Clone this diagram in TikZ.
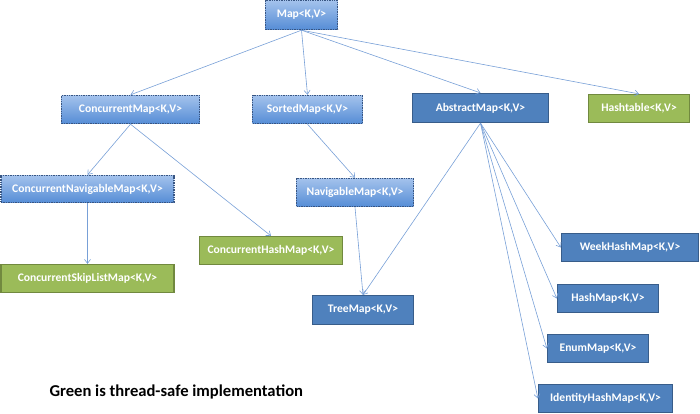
\documentclass[tikz,border=0pt]{standalone}
\usepackage{fontspec}
\setmainfont{Carlito}
\usetikzlibrary{arrows.meta}
\definecolor{lblueTop}{RGB}{163,194,236}
\definecolor{lblueBot}{RGB}{86,141,214}
\definecolor{dotborder}{RGB}{56,85,130}
\definecolor{dblue}{RGB}{79,129,189}
\definecolor{dblueBorder}{RGB}{56,93,138}
\definecolor{gfill}{RGB}{155,187,89}
\definecolor{gborder}{RGB}{113,137,63}
\definecolor{arrowc}{RGB}{120,160,215}
\tikzset{
  box/.style={rectangle, inner sep=0pt, text=white, font=\fontsize{11.6}{13}\selectfont\bfseries},
  ifacebox/.style={box, top color=lblueTop, bottom color=lblueBot, draw=dotborder, line width=1.4pt, densely dotted},
  classbox/.style={box, fill=dblue, draw=dblueBorder, line width=1.2pt},
  safebox/.style={box, fill=gfill, draw=gborder, line width=1.2pt},
  conn/.style={draw=arrowc, line width=0.6pt, -{Straight Barb[length=4pt,width=6pt]}},
}
\begin{document}
\begin{tikzpicture}[x=1pt,y=-1pt]
\useasboundingbox (0,0) rectangle (700,414);
\node[ifacebox, minimum width=72pt, minimum height=29pt] (map) at (301.5,15) {Map<K,V>};
\node[ifacebox, minimum width=138pt, minimum height=28pt] (cmap) at (130.5,109.5) {ConcurrentMap<K,V>};
\node[ifacebox, minimum width=110pt, minimum height=28pt] (smap) at (307.5,109.5) {SortedMap<K,V>};
\node[classbox, minimum width=136pt, minimum height=29pt] (amap) at (480.5,108) {AbstractMap<K,V>};
\node[safebox, minimum width=101pt, minimum height=28pt] (htab) at (639,108.5) {Hashtable<K,V>};
\node[ifacebox, minimum width=173pt, minimum height=27pt] (cnmap) at (87.5,189) {ConcurrentNavigableMap<K,V>};
\node[safebox, minimum width=173pt, minimum height=28pt] (cslmap) at (87.5,278.5) {ConcurrentSkipListMap<K,V>};
\node[safebox, minimum width=143pt, minimum height=28pt] (chmap) at (271,250.5) {ConcurrentHashMap<K,V>};
\node[ifacebox, minimum width=117pt, minimum height=28pt] (nmap) at (355,192.5) {NavigableMap<K,V>};
\node[classbox, minimum width=101pt, minimum height=29pt] (tmap) at (363,310) {TreeMap<K,V>};
\node[classbox, minimum width=137pt, minimum height=28pt] (whmap) at (630,247.5) {WeekHashMap<K,V>};
\node[classbox, minimum width=101pt, minimum height=28pt] (hmap) at (608,298.5) {HashMap<K,V>};
\node[classbox, minimum width=101pt, minimum height=28pt] (emap) at (598,348.5) {EnumMap<K,V>};
\node[classbox, minimum width=134pt, minimum height=28pt] (ihmap) at (605.5,398.5) {IdentityHashMap<K,V>};
\node[anchor=west, font=\fontsize{16.6}{19}\selectfont\bfseries] (legend) at (46,392) {Green is thread-safe implementation};

\draw[conn] (map.south) -- (cmap.north);
\draw[conn] (map.south) -- (smap.north);
\draw[conn] (map.south) -- (amap.north);
\draw[conn] (map.south) -- (htab.north);
\draw[conn] (cmap.south) -- (cnmap.north);
\draw[conn] (cmap.south) -- (chmap.north);
\draw[conn] (smap.south) -- (nmap.north);
\draw[conn] (cnmap.south) -- (cslmap.north);
\draw[conn] (nmap.south) -- (tmap.north);
\draw[conn] (amap.south) -- (tmap.north);
\draw[conn] (amap.south) -- (whmap.west);
\draw[conn] (amap.south) -- (hmap.west);
\draw[conn] (amap.south) -- (emap.west);
\draw[conn] (amap.south) -- (ihmap.west);
\end{tikzpicture}
\end{document}
